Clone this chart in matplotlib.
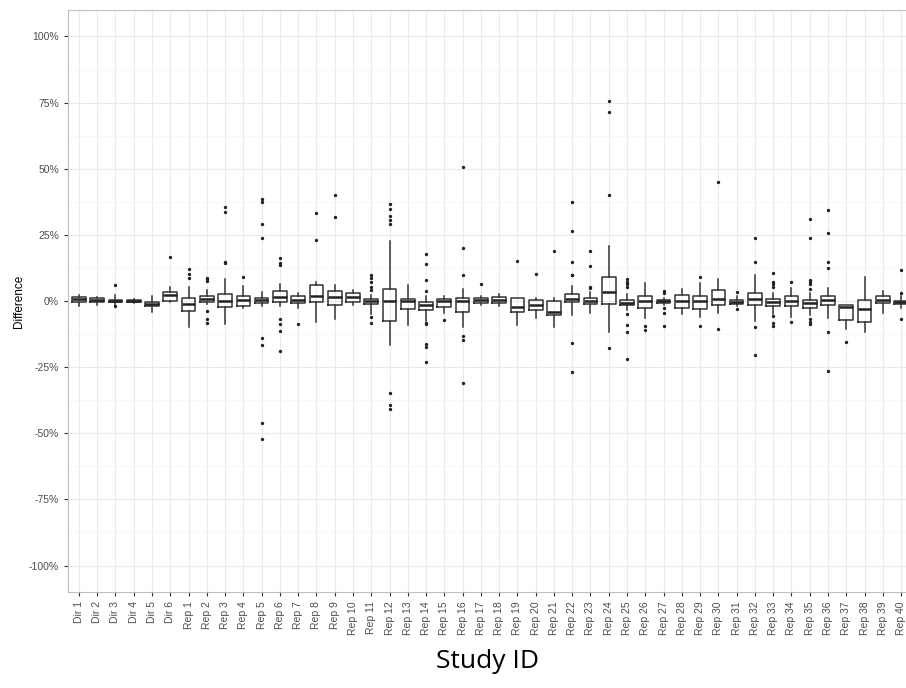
import matplotlib.pyplot as plt
import numpy as np
from matplotlib.ticker import FuncFormatter, MultipleLocator

labels = ["Dir %d" % i for i in range(1, 7)] + ["Rep %d" % i for i in range(1, 41)]

# box stats, in percent
q1 = [-0.25, -0.25, -0.5, -0.3, -2.0, 0.0,
      -3.6, -0.25, -2.3, -2.0, -0.75, -0.25, -0.6, -0.25, -1.5, -0.25,
      -1.3, -7.5, -3.0, -3.3, -2.1, -4.1, -0.6, -0.9, -4.1, -3.5,
      -5.4, -0.5, -1.0, -1.1, -1.6, -2.8, -0.6, -2.5, -2.9, -1.6,
      -1.0, -1.6, -1.9, -1.9, -2.5, -1.5, -7.2, -7.8, -0.9, -1.1]
med = [0.6, 0.4, 0.0, 0.0, -1.0, 2.1,
       -1.3, 0.6, 0.0, 0.25, 0.25, 1.6, 0.4, 1.9, 1.4, 1.5,
       -0.1, 0.0, -0.1, -1.6, 0.0, 0.0, 0.4, 0.25, -2.1, -1.4,
       -4.0, 0.9, 0.1, 3.5, -0.6, 0.0, 0.0, 0.0, 0.0, 0.6,
       -0.25, 0.6, -0.25, -0.1, -0.6, 0.25, -2.3, -3.1, 0.5, -0.5]
q3 = [1.6, 1.1, 0.5, 0.3, -0.25, 3.4,
      1.0, 1.9, 2.8, 2.0, 1.25, 3.6, 1.9, 5.9, 3.9, 2.9,
      0.9, 4.6, 0.9, -0.4, 0.75, 1.25, 1.1, 1.4, 1.0, 0.5,
      0.0, 2.8, 1.25, 9.0, 0.25, 1.9, 0.4, 2.3, 1.75, 4.0,
      0.4, 3.1, 0.75, 1.75, 0.5, 1.9, -1.6, 0.5, 1.9, 0.1]
wlo = [-1.9, -1.5, -1.5, -0.8, -4.0, -0.25,
       -9.7, -1.0, -8.8, -2.5, -2.0, -2.0, -2.5, -7.9, -6.7, -1.5,
       -4.8, -16.7, -9.2, -7.5, -4.5, -10.0, -1.6, -2.0, -9.0, -6.5,
       -9.8, -5.4, -4.4, -11.9, -3.5, -6.3, -1.5, -4.8, -5.9, -4.6,
       -1.8, -7.5, -5.0, -6.0, -5.3, -6.3, -10.7, -11.9, -4.5, -2.5]
whi = [2.3, 1.6, 2.3, 0.8, 1.8, 5.3,
       5.3, 4.0, 8.4, 5.6, 3.3, 6.3, 2.9, 7.2, 5.9, 4.1,
       2.4, 22.6, 6.0, 1.9, 1.8, 4.4, 1.8, 2.5, 1.25, 1.0,
       1.25, 5.6, 3.4, 20.8, 2.5, 6.8, 1.25, 4.6, 6.7, 8.3,
       1.8, 9.8, 3.1, 5.0, 3.1, 5.1, -1.5, 9.0, 3.6, 1.8]
outliers = [
    [], [], [5.9, -2.0], [], [], [16.6],
    [12.0, 10.2, 8.7], [8.8, 8.2, 7.5, -3.6, -6.9, -8.2], [35.4, 33.8, 14.7, 14.2], [9.2],
    [38.4, 37.4, 29.2, 24.0, -14.1, -16.6, -46.3, -52.0],
    [16.1, 14.2, 13.7, -6.7, -8.7, -11.2, -18.8], [-8.7], [33.1, 23.0], [40.0, 31.9], [],
    [10.0, 8.8, 7.3, 5.3, 4.3, -6.0, -8.2],
    [36.6, 34.9, 32.3, 30.6, 29.1, -34.9, -39.3, -40.8], [], [17.6, 14.1, 7.9, 3.8, -8.3, -8.8, -16.3, -17.3, -23.0],
    [-7.0], [50.7, 20.2, 9.8, -13.2, -14.6, -31.0], [6.3], [], [15.1], [10.3],
    [18.8], [37.5, 26.4, 14.9, 10.0, 9.7, -15.7, -26.7], [18.8, 13.2, 5.3, 4.9],
    [75.5, 71.5, 40.0, -17.8], [8.2, 7.2, 6.3, 5.3, -4.8, -9.0, -11.7, -22.0], [-9.4, -11.0],
    [3.8, 3.1, -2.8, -4.6, -9.3], [], [8.9, -9.5], [44.8, -10.7],
    [3.4, -3.1], [24.0, 14.9, -10.0, -20.3], [10.5, 7.0, 6.4, 5.3, -5.6, -8.4, -9.4], [7.2, -7.8],
    [31.0, 23.8, 8.0, 7.2, 6.5, 4.6, -6.9, -7.8, -8.8], [34.3, 25.6, 14.6, 12.5, -11.9, -26.4],
    [-15.6], [], [], [11.9, 3.0, -6.7],
]

stats = []
for i in range(len(labels)):
    stats.append(dict(q1=q1[i], med=med[i], q3=q3[i], whislo=wlo[i],
                      whishi=whi[i], fliers=outliers[i], label=labels[i]))

fig = plt.figure(figsize=(9.06, 6.88), dpi=100)
ax = fig.add_axes([68 / 906, 1 - 592 / 688, (912 - 68) / 906, (592 - 10) / 688])

line = dict(color="#333333", linewidth=1.1)
ax.bxp(stats, positions=np.arange(len(labels)), widths=0.75, patch_artist=False,
       boxprops=line, whiskerprops=line, capprops=dict(linewidth=0),
       medianprops=dict(color="#222222", linewidth=1.8),
       flierprops=dict(marker="o", markersize=1.4, markerfacecolor="#222222",
                       markeredgecolor="#222222", linestyle="none"))

ax.set_xlim(-0.6, len(labels) - 0.4)
ax.set_ylim(-110, 110)
ax.set_xticks(np.arange(len(labels)))
ax.set_xticklabels(labels, rotation=90, fontsize=7.5, color="#4D4D4D",
                   family="Liberation Sans")
ax.yaxis.set_major_locator(MultipleLocator(25))
ax.yaxis.set_minor_locator(MultipleLocator(12.5))
ax.yaxis.set_major_formatter(FuncFormatter(lambda v, p: "%d%%" % v))
for t in ax.get_yticklabels():
    t.set_family("Liberation Sans")
ax.tick_params(axis="both", which="major", length=3, color="#333333",
               labelsize=7.5, labelcolor="#4D4D4D")
ax.tick_params(axis="y", which="minor", length=0)

ax.grid(True, which="major", color="#EBEBEB", linewidth=0.8)
ax.grid(True, which="minor", axis="y", color="#F4F4F4", linewidth=0.5)
ax.set_axisbelow(True)
for s in ax.spines.values():
    s.set_color("#BFBFBF")
    s.set_linewidth(0.8)

ax.set_ylabel("Difference", fontsize=8.5, family="Liberation Sans", labelpad=3)
fig.text(487 / 906, 1 - 662 / 688, "Study ID", fontsize=19, family="Open Sans",
         ha="center", va="center")

fig.savefig("out.png", dpi=100)
